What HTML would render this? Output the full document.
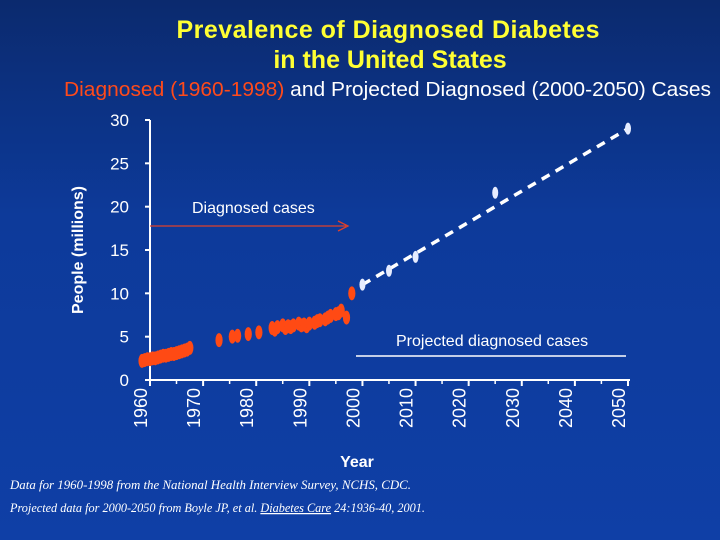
<!DOCTYPE html>
<html><head><meta charset="utf-8"><style>
html,body{margin:0;padding:0}
body{width:720px;height:540px;overflow:hidden;background:linear-gradient(180deg,#0b2a6e 0%,#0d3a9a 40%,#0f3fa6 100%);font-family:"Liberation Sans",sans-serif}
svg{position:absolute;left:0;top:0}
</style></head><body>
<svg width="720" height="540">
<text x="388" y="38" text-anchor="middle" font-size="25" font-weight="bold" fill="#ffff33" textLength="423">Prevalence of Diagnosed Diabetes</text>
<text x="390" y="68" text-anchor="middle" font-size="25" font-weight="bold" fill="#ffff33">in the United States</text>
<text x="64" y="96" font-size="20" fill="#ffffff" textLength="647" lengthAdjust="spacingAndGlyphs"><tspan fill="#ff4a1a">Diagnosed (1960-1998)</tspan> and Projected Diagnosed (2000-2050) Cases</text>
<text transform="translate(83,250) rotate(-90)" text-anchor="middle" font-size="16" font-weight="bold" fill="#fff">People (millions)</text>
<text x="357" y="467" text-anchor="middle" font-size="16" font-weight="bold" fill="#fff">Year</text>
<g id="axes"></g><g id="marks"></g>
<text x="192" y="213" font-size="16" fill="#fff">Diagnosed cases</text>
<line x1="150" y1="226" x2="346" y2="226" stroke="#e0402a" stroke-width="1.3"/>
<polyline points="338,221 348,226 338,231" fill="none" stroke="#e0402a" stroke-width="1.3"/>
<text x="396" y="346" font-size="16" fill="#fff">Projected diagnosed cases</text>
<line x1="356" y1="356" x2="626" y2="356" stroke="#fff" stroke-width="1.5"/>
<text x="10" y="489" font-size="12.5" font-style="italic" fill="#fff" font-family="Liberation Serif,serif" textLength="401" lengthAdjust="spacingAndGlyphs">Data for 1960-1998 from the National Health Interview Survey, NCHS, CDC.</text>
<text x="10" y="512" font-size="12.5" font-style="italic" fill="#fff" font-family="Liberation Serif,serif" textLength="415" lengthAdjust="spacingAndGlyphs">Projected data for 2000-2050 from Boyle JP, et al. <tspan text-decoration="underline">Diabetes Care</tspan> 24:1936-40, 2001.</text>
</svg>
<script>
const xTicks=[1960,1970,1980,1990,2000,2010,2020,2030,2040,2050];
const yTicks=[0,5,10,15,20,25,30];
const diagYears=[1958.5,1959,1959.5,1960,1960.5,1961,1961.5,1962,1962.5,1963,1963.5,1964,1964.5,1965,1965.5,1966,1966.5,1967,1967.5,1973,1975.5,1976.5,1978.5,1980.5,1983,1983.5,1984,1985,1985.5,1986,1986.5,1987,1988,1988.5,1989,1989.5,1990,1991,1991.5,1992,1993,1993.5,1994,1995,1995.5,1996,1997,1998];
const diagVals=[2.2,2.3,2.4,2.4,2.5,2.5,2.6,2.7,2.8,2.8,2.9,3.0,3.0,3.1,3.2,3.3,3.4,3.5,3.7,4.6,5.0,5.1,5.3,5.5,6.0,5.8,6.1,6.3,6.0,6.2,6.1,6.3,6.5,6.3,6.4,6.2,6.5,6.6,6.8,6.9,7.0,7.2,7.4,7.6,7.7,8.0,7.2,10.0];
const projYears=[2000,2005,2010,2025,2050];
const projVals=[11.0,12.6,14.2,21.6,29.0];
const NS='http://www.w3.org/2000/svg';
const X=y=>150+(y-1960)*(478/90);
const Y=v=>380-v*(260/30);
const ax=document.getElementById('axes'),mk=document.getElementById('marks');
function mkEl(t,a,p){const e=document.createElementNS(NS,t);for(const k in a)e.setAttribute(k,a[k]);p.appendChild(e);return e;}
const yl=mkEl('line',{x1:150,y1:Y(30),x2:150,y2:380,stroke:'#fff','stroke-width':2},ax);


const xl=mkEl('line',{x1:150,y1:380,x2:630,y2:380,stroke:'#fff','stroke-width':2},ax);


yTicks.forEach(v=>{
 mkEl('line',{x1:145,y1:Y(v),x2:150,y2:Y(v),stroke:'#fff','stroke-width':2},ax);
 const t=mkEl('text',{x:129,y:Y(v)+6,'text-anchor':'end','font-size':17,fill:'#fff'},ax);t.textContent=v;
 
 
});
xTicks.forEach((yr,i)=>{
 const x=X(yr);
 mkEl('line',{x1:x,y1:380,x2:x,y2:386,stroke:'#fff','stroke-width':2},ax);
 if(i<xTicks.length-1)mkEl('line',{x1:x+26.5,y1:380,x2:x+26.5,y2:384,stroke:'#fff','stroke-width':1.5},ax);
 const t=mkEl('text',{transform:`translate(${x-3},388) rotate(-90)`,'text-anchor':'end','font-size':18,fill:'#fff'},ax);t.textContent=yr;
 
 
});
diagYears.forEach((yr,i)=>{
 const e=mkEl('ellipse',{cx:X(yr),cy:Y(diagVals[i]),rx:3.6,ry:7,fill:'#ff4a14'},mk);
 
 
});
const n=projYears.length-1;
const pl=mkEl('line',{x1:X(projYears[0]),y1:Y(projVals[0]),x2:X(projYears[n]),y2:Y(projVals[n]),stroke:'#fff','stroke-width':3.5,'stroke-dasharray':'9 7'},mk);


projYears.forEach((yr,i)=>{
 const e=mkEl('ellipse',{cx:X(yr),cy:Y(projVals[i]),rx:3,ry:6,fill:'#e6ecff'},mk);
 
 
});
</script>
</body></html>
